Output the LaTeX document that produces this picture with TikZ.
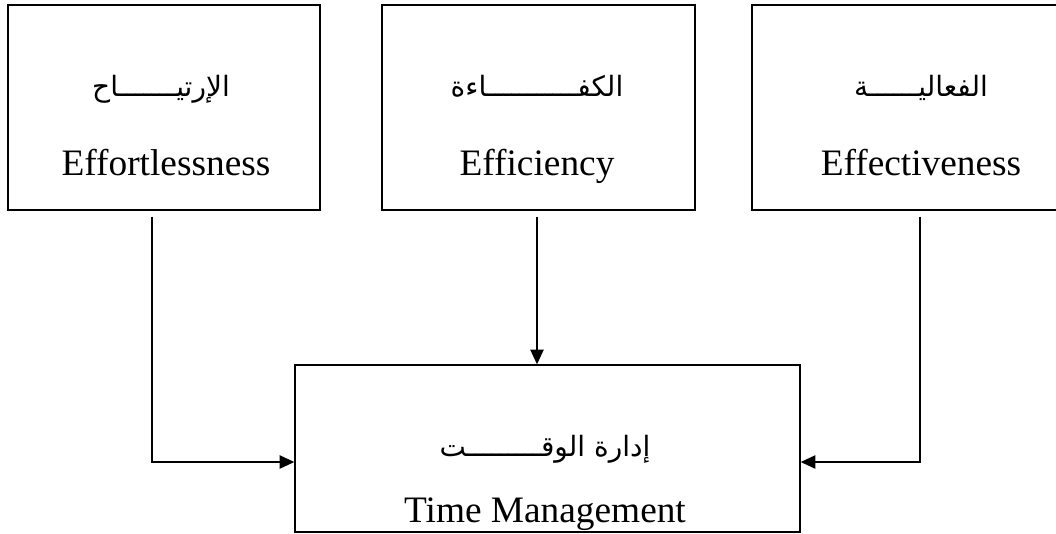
\documentclass[tikz,border=0pt]{standalone}
\usepackage{fontspec}
\setmainfont{Liberation Serif}
\newfontfamily\arabicfont[Script=Arabic]{DejaVu Sans}
\TeXXeTstate=1
\usetikzlibrary{arrows.meta}

\tikzset{
	box/.style={draw, line width=1.1pt, inner sep=0pt},
	arab/.style={anchor=base, font=\arabicfont\fontsize{21}{25}\selectfont},
	engl/.style={anchor=base, font=\fontsize{28}{33}\selectfont},
	conn/.style={line width=1.1pt, shorten <=4.5pt},
	arr/.style={conn, -{Triangle[length=11pt, width=10pt]}}
}

\begin{document}
\begin{tikzpicture}[x=0.75pt, y=-0.75pt]
	\useasboundingbox (0,0) rectangle (1056,533);
	% boxes
	\node[box, minimum width=312*0.75pt, minimum height=205*0.75pt] (ease) at (164,107.5) {};
	\node[box, minimum width=313*0.75pt, minimum height=205*0.75pt] (effic) at (538.5,107.5) {};
	\node[box, minimum width=336*0.75pt, minimum height=205*0.75pt] (effec) at (920,107.5) {};
	\node[box, minimum width=505*0.75pt, minimum height=167*0.75pt] (tm) at (547.5,448.5) {};
	% texts
	\node[arab] at (161,96) {\beginR الإرتيـــــــاح\endR};
	\node[engl] at (166,175) {Effortlessness};
	\node[arab] at (537,96) {\beginR الكفـــــــــــاءة\endR};
	\node[engl] at (537,175) {Efficiency};
	\node[arab] at (921,96) {\beginR الفعاليــــــة\endR};
	\node[engl] at (921,175) {Effectiveness};
	\node[arab] at (545,456) {\beginR إدارة الوقـــــــــت\endR};
	\node[engl] at (545,522) {Time Management};
	% connectors
	\coordinate (lturn) at (152,462);
	\coordinate (rturn) at (920,462);
	\draw[arr] (ease.south -| lturn) -- (lturn) -- (tm.west |- lturn);
	\draw[arr] (effic.south -| 537,0) -- (tm.north -| 537,0);
	\draw[arr] (effec.south -| rturn) -- (rturn) -- (tm.east |- rturn);
\end{tikzpicture}
\end{document}
